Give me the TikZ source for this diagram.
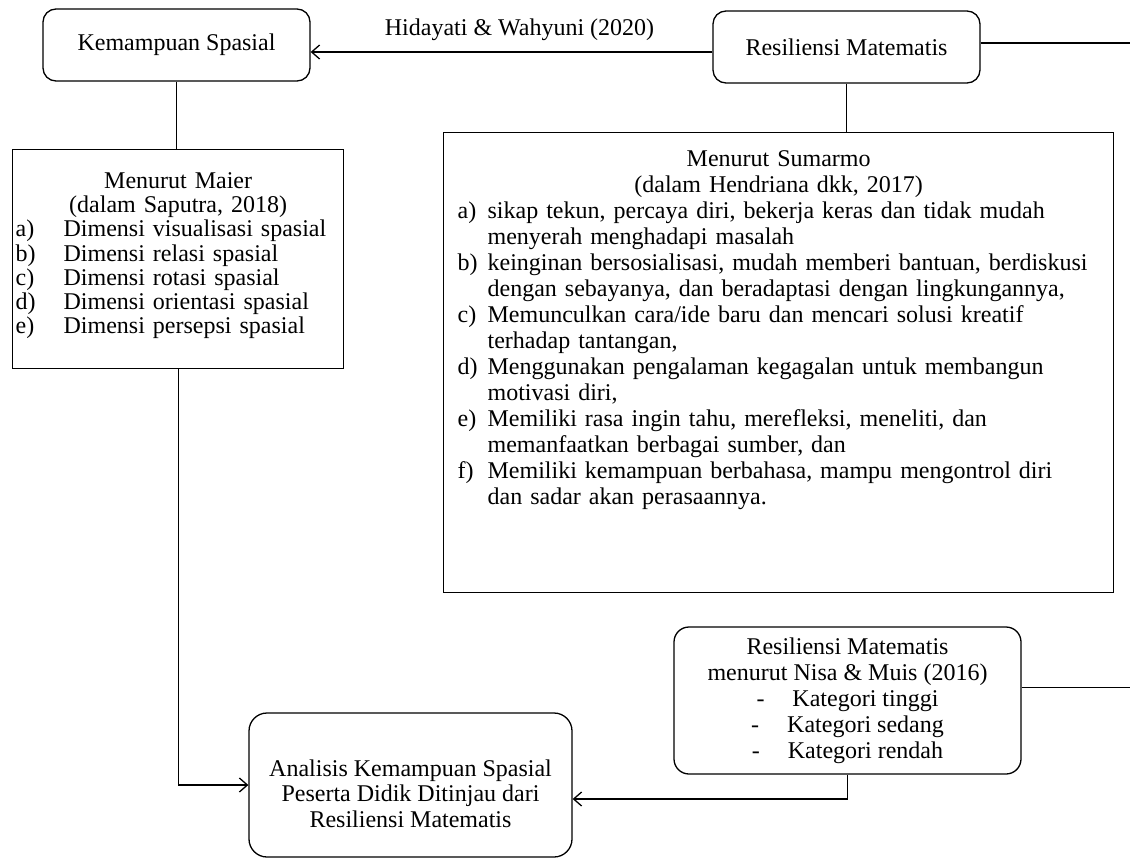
\documentclass[tikz,border=0pt]{standalone}
\usepackage{fontspec}
\setmainfont{Liberation Serif}
\usetikzlibrary{arrows.meta}
\tikzset{
    kotak/.style={draw, rounded corners=13pt, align=center,
        minimum width=267pt, minimum height=72pt},
    daftar/.style={draw, align=left, anchor=north west},
    panah/.style={-{Straight Barb[length=8pt,width=14pt]}},
}
\newcommand{\judul}[1]{\makebox[\linewidth]{#1}}
\newcommand{\butir}[3][30pt]{\makebox[#1][l]{#2}#3}
\newcommand{\lanjut}[2][30pt]{\hspace*{#1}#2}

\begin{document}
\begin{tikzpicture}[x=1pt, y=-1pt, line width=1.3pt,
    font=\fontsize{24}{26}\selectfont]
\useasboundingbox (0,0) rectangle (1130,859);
\coordinate (tepi) at (1130,0);

\node[kotak] (kem) at (176.5,45) {Kemampuan Spasial};
\node[kotak] (res) at (846.5,47) {Resiliensi Matematis};

\node[daftar, inner xsep=3pt, inner ysep=23pt, text width=325pt,
    text depth=157pt, font=\fontsize{24}{24.2}\selectfont] (mai) at (12,149) {
\judul{Menurut Maier}\\
\judul{(dalam Saputra, 2018)}\\
\butir[48pt]{a)}{Dimensi visualisasi spasial}\\
\butir[48pt]{b)}{Dimensi relasi spasial}\\
\butir[48pt]{c)}{Dimensi rotasi spasial}\\
\butir[48pt]{d)}{Dimensi orientasi spasial}\\
\butir[48pt]{e)}{Dimensi persepsi spasial}};

\node[daftar, inner xsep=14pt, inner ysep=18pt, text width=642pt,
    text depth=408pt] (sum) at (443,132) {
\judul{Menurut Sumarmo}\\
\judul{(dalam Hendriana dkk, 2017)}\\
\butir{a)}{sikap tekun, percaya diri, bekerja keras dan tidak mudah}\\
\lanjut{menyerah menghadapi masalah}\\
\butir{b)}{keinginan bersosialisasi, mudah memberi bantuan, berdiskusi}\\
\lanjut{dengan sebayanya, dan beradaptasi dengan lingkungannya,}\\
\butir{c)}{Memunculkan cara/ide baru dan mencari solusi kreatif}\\
\lanjut{terhadap tantangan,}\\
\butir{d)}{Menggunakan pengalaman kegagalan untuk membangun}\\
\lanjut{motivasi diri,}\\
\butir{e)}{Memiliki rasa ingin tahu, merefleksi, meneliti, dan}\\
\lanjut{memanfaatkan berbagai sumber, dan}\\
\butir{f)}{Memiliki kemampuan berbahasa, mampu mengontrol diri}\\
\lanjut{dan sadar akan perasaannya.}};

\node[kotak, rounded corners=15pt, minimum width=347pt, minimum height=147pt,
    inner ysep=2pt] (nis) at (847.5,700.5) {
Resiliensi Matematis\\
menurut Nisa \& Muis (2016)\\
\makebox[36pt][l]{-}Kategori tinggi\\
\makebox[36pt][l]{-}Kategori sedang\\
\makebox[36pt][l]{-}Kategori rendah};

\node[kotak, rounded corners=18pt, minimum width=323pt, minimum height=144pt,
    font=\fontsize{24}{25.5}\selectfont] (ana) at (410.5,785) {
\rule{0pt}{34pt}Analisis Kemampuan Spasial\\
Peserta Didik Ditinjau dari\\
Resiliensi Matematis};

\draw[panah] ([yshift=-5pt]res.west) -- ([yshift=-5pt]res.west -| kem.east)
    node[pos=0.48, above=7pt] (sumber) {Hidayati \& Wahyuni (2020)};
\draw ([yshift=4pt]res.east) -- ([yshift=4pt]res.east -| tepi);
\draw (res.south) -- (res.south |- sum.north);
\draw (kem.south) -- (kem.south |- mai.north);
\draw[panah] (mai.south) |- (ana.west);
\draw[panah] (nis.south) |- ([yshift=-14pt]ana.east);
\draw ([yshift=13pt]nis.east) -- ([yshift=13pt]nis.east -| tepi);
\end{tikzpicture}
\end{document}
